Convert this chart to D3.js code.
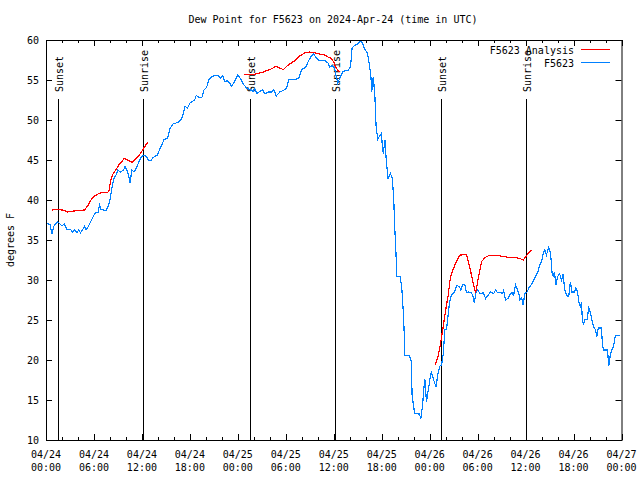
<!DOCTYPE html>
<html><head><meta charset="utf-8">
<script src="https://cdn.jsdelivr.net/npm/d3@7"></script>
<style>
html,body{margin:0;padding:0;background:#fff;}
svg text{font-family:"DejaVu Sans Mono",monospace;font-size:10px;fill:#000;}
</style></head>
<body><svg id="c" width="640" height="480"></svg>
<script>
// ---- data (hours since 2024-04-24 00:00 UTC) ----
const chartTitle = "Dew Point for F5623 on 2024-Apr-24 (time in UTC)";
const yLabel = "degrees F";
const seriesNames = ["F5623 Analysis", "F5623"];
const yTicks = [10, 15, 20, 25, 30, 35, 40, 45, 50, 55, 60];
const sunLabels = ["Sunset", "Sunrise", "Sunset", "Sunrise", "Sunset", "Sunrise"];
const sunHours = [1.55, 12.15, 25.55, 36.15, 49.42, 60.05];

const obsHours = [0.2,0.5,0.75,1.0,1.4,1.67,2.0,2.3,2.6,3.1,3.3,3.6,3.9,4.1,4.3,4.6,4.8,5.0,5.3,5.75,6.0,6.25,6.5,6.7,6.9,7.5,7.8,8.0,8.25,8.5,8.75,9.0,9.3,9.7,9.9,10.2,10.4,10.5,10.75,11.0,11.2,11.6,11.9,12.1,12.5,12.8,13.1,13.4,13.9,14.4,14.8,15.2,15.5,15.9,16.5,17.0,17.4,17.7,18.0,18.6,18.8,19.0,19.5,19.75,20.1,20.4,20.9,21.5,21.8,22.1,22.4,22.7,23.0,23.2,23.6,24.0,24.4,24.75,25.1,25.5,25.9,26.1,26.4,26.8,27.1,27.4,27.8,28.2,28.5,28.8,29.25,29.7,30.1,30.4,31.3,31.6,32.0,32.5,32.8,33.2,33.5,33.8,34.25,34.9,35.3,35.5,35.8,36.1,36.3,36.5,36.95,37.2,37.8,38.1,38.3,38.6,39.0,39.3,39.6,39.9,40.2,40.4,40.55,40.65,40.75,40.85,40.95,41.15,41.3,41.5,41.75,41.96,42.1,42.2,42.4,42.6,42.8,43.1,43.3,43.5,43.6,43.75,43.9,44.3,44.5,44.7,44.8,44.9,45.5,45.7,45.8,46.05,46.1,46.7,46.9,47.1,47.3,47.4,47.6,47.75,47.95,48.1,48.2,48.5,48.8,49.0,49.25,49.5,49.7,49.9,50.1,50.3,50.5,50.7,51.1,51.4,51.7,51.9,52.1,52.4,52.6,52.9,53.2,53.4,53.6,53.75,54.0,54.3,54.7,55.0,55.3,55.6,56.0,56.25,56.5,56.8,57.1,57.25,57.5,57.8,58.0,58.3,58.5,58.75,59.0,59.2,59.3,59.5,59.7,59.9,60.2,60.4,60.7,61.0,61.25,61.5,61.7,62.0,62.2,62.4,62.6,62.8,62.9,63.1,63.2,63.3,63.5,63.6,63.8,64.0,64.25,64.5,64.7,64.9,65.2,65.4,65.6,65.8,66.1,66.3,66.5,66.7,66.85,67.0,67.1,67.25,67.4,67.7,67.9,68.1,68.3,68.5,68.75,68.9,69.1,69.5,69.6,69.75,70.2,70.3,70.4,70.6,70.8,71.0,71.25,71.75];
const obsValues = [37.1,36.9,35.8,36.75,37.3,37.1,36.75,37.0,36.3,36.3,36.0,36.3,35.9,36.3,35.9,36.3,36.7,36.3,36.7,37.6,38.1,38.5,38.4,39.4,38.8,38.7,39.25,40.0,41.5,42.7,43.1,43.75,43.5,43.75,44.2,43.5,42.7,42.1,43.75,43.5,43.75,44.7,45.3,45.6,45.5,45.0,44.9,45.3,45.6,46.7,47.6,47.7,48.9,49.5,49.7,50.2,51.7,51.5,52.1,52.5,53.1,52.9,52.8,53.75,54.1,55.1,55.5,55.6,55.2,55.5,54.8,54.9,54.6,54.2,54.8,55.6,55.1,54.4,54.0,53.8,53.6,53.9,53.3,53.6,53.75,53.25,53.5,53.5,53.8,53.0,53.5,53.7,54.0,55.1,55.1,55.2,56.3,56.6,57.3,58.0,58.25,57.75,57.4,57.4,57.1,56.6,56.8,56.5,55.5,54.6,55.7,56.1,56.2,56.7,59.0,59.3,59.5,59.9,59.6,58.8,58.4,57.3,56.2,55.4,53.5,54.6,55.4,52.9,49.2,47.6,48.0,48.3,46.5,45.8,47.5,44.6,42.7,43.3,42.8,40.4,37.1,34.2,30.5,30.4,29.2,26.0,23.75,20.6,20.5,19.8,15.6,13.8,13.3,13.25,12.7,14.25,16.7,17.6,14.8,15.8,17.0,18.1,18.5,17.5,16.6,18.1,19.2,19.4,20.8,23.75,23.8,25.5,27.3,28.1,28.5,29.3,29.2,28.75,29.4,29.4,28.4,28.5,28.4,28.1,27.1,28.3,28.75,28.3,28.4,27.7,28.1,28.5,28.3,28.75,28.4,28.5,28.3,28.7,27.5,27.7,28.1,28.4,28.1,29.4,28.75,28.1,27.5,27.8,26.9,28.3,28.5,29.0,29.4,29.9,30.5,30.9,31.7,32.3,33.3,33.75,33.1,33.75,34.1,33.4,32.5,31.0,30.4,31.0,29.4,30.4,30.8,30.0,30.75,28.75,28.0,28.0,29.8,28.5,28.5,29.0,28.5,27.1,26.7,27.2,25.0,24.4,25.1,25.1,26.5,26.0,25.0,24.2,23.75,22.9,24.0,24.0,22.1,21.25,21.25,20.6,19.25,20.6,21.25,21.75,23.1,23.1];

// analysis series; null marks a gap between segments
const anaHours = [0.75,1.25,1.67,2.3,2.7,3.3,4.2,4.8,5.2,5.8,6.5,6.9,7.7,7.9,8.1,8.3,8.75,9.2,9.5,9.8,10.2,10.75,11.2,11.6,12.1,12.4,12.8,
  18.0,
  24.75,25.9,26.5,27.2,27.6,28.0,28.4,28.75,29.2,29.7,30.1,30.5,31.1,31.75,32.4,33.0,33.6,34.25,34.9,35.4,35.7,36.0,36.3,36.7,
  42.0,
  48.7,49.05,49.3,49.7,50.0,50.3,50.6,50.8,51.3,51.75,52.6,53.0,53.4,53.75,54.0,54.5,54.9,55.5,56.1,56.9,58.0,58.75,59.25,59.7,60.1,60.4,60.7];
const anaValues = [38.75,38.8,38.8,38.7,38.5,38.6,38.7,38.75,39.25,40.3,40.75,40.9,40.9,41.25,42.5,43.1,43.8,44.5,44.8,45.2,45.0,44.7,45.1,45.5,46.25,46.75,47.3,
  null,
  55.7,55.7,55.8,56.0,56.2,56.3,56.5,56.7,56.5,56.3,56.7,57.0,57.4,58.0,58.4,58.5,58.4,58.25,58.1,57.8,57.7,57.25,56.5,56.0,
  null,
  19.4,20.4,21.7,24.2,26.25,28.0,30.4,31.0,32.2,33.1,33.2,31.7,29.8,28.3,29.8,32.3,32.8,33.1,33.1,33.0,32.8,32.8,32.7,32.5,33.0,33.4,33.75];

// ---- drawing ----
const t0 = Date.UTC(2024, 3, 24, 0, 0);
const toDate = h => new Date(t0 + h * 3600e3);
const L = 46, R = 621.5, T = 40, B = 440;
const svg = d3.select("#c");
const x = d3.scaleUtc().domain([toDate(0), toDate(72)]).range([L, R]);
const y = d3.scaleLinear().domain([10, 60]).range([B, T]);
const crisp = v => Math.round(v) + 0.5;

// title
svg.append("text").attr("x", 333).attr("y", 23).attr("text-anchor", "middle").text(chartTitle);
// y label
svg.append("text").attr("transform", "translate(14,240) rotate(-90)").attr("text-anchor", "middle").text(yLabel);

const g = svg.append("g");
const majorX = d3.utcHour.every(6).range(toDate(0), toDate(72.01));
const minorX = d3.utcHour.every(2).range(toDate(0), toDate(72.01)).filter(d => d.getUTCHours() % 6 !== 0);

// ticks (inward on all sides)
majorX.forEach(d => {
  const px = crisp(x(d));
  g.append("line").attr("x1", px).attr("x2", px).attr("y1", B).attr("y2", B - 6).attr("stroke", "#000");
  g.append("line").attr("x1", px).attr("x2", px).attr("y1", T).attr("y2", T + 6).attr("stroke", "#000");
  const lab = g.append("text").attr("text-anchor", "middle").attr("x", x(d));
  lab.append("tspan").attr("x", x(d)).attr("y", 458).text(d3.utcFormat("%m/%d")(d));
  lab.append("tspan").attr("x", x(d)).attr("y", 471).text(d3.utcFormat("%H:%M")(d));
});
minorX.forEach(d => {
  const px = crisp(x(d));
  g.append("line").attr("x1", px).attr("x2", px).attr("y1", B).attr("y2", B - 3).attr("stroke", "#000");
  g.append("line").attr("x1", px).attr("x2", px).attr("y1", T).attr("y2", T + 3).attr("stroke", "#000");
});
yTicks.forEach(v => {
  const py = crisp(y(v));
  g.append("line").attr("x1", L).attr("x2", L + 6).attr("y1", py).attr("y2", py).attr("stroke", "#000");
  g.append("line").attr("x1", R).attr("x2", R - 6).attr("y1", py).attr("y2", py).attr("stroke", "#000");
  g.append("text").attr("x", 39).attr("y", y(v) + 4).attr("text-anchor", "end").text(v);
});

// sunrise / sunset
sunHours.forEach((h, i) => {
  const px = crisp(x(toDate(h)));
  g.append("line").attr("x1", px).attr("x2", px).attr("y1", 99).attr("y2", B).attr("stroke", "#000");
  g.append("text").attr("transform", `translate(${px + 4.5},92) rotate(-90)`).attr("text-anchor", "start").text(sunLabels[i]);
});

// series
const obs = obsHours.map((h, i) => ({ d: toDate(h), v: obsValues[i] }));
const ana = anaHours.map((h, i) => ({ d: toDate(h), v: anaValues[i] }));
const line = d3.line().defined(p => p.v !== null).x(p => x(p.d)).y(p => y(p.v));
svg.append("path").datum(ana).attr("d", line).attr("fill", "none").attr("stroke", "#ff0000")
  .attr("stroke-width", 1.2).attr("shape-rendering", "crispEdges");
svg.append("path").datum(obs).attr("d", line).attr("fill", "none").attr("stroke", "#0080ff")
  .attr("stroke-width", 1.2).attr("shape-rendering", "crispEdges");

// border
svg.append("rect").attr("x", L + 0.5).attr("y", T + 0.5).attr("width", Math.round(R - L) - 0.5).attr("height", B - T)
  .attr("fill", "none").attr("stroke", "#000");

// legend
const legColors = ["#ff0000", "#0080ff"];
seriesNames.forEach((n, i) => {
  const ly = 49.5 + i * 13;
  svg.append("text").attr("x", 574).attr("y", ly + 4).attr("text-anchor", "end").text(n);
  svg.append("line").attr("x1", 581).attr("x2", 610).attr("y1", ly).attr("y2", ly).attr("stroke", legColors[i]);
});
</script></body></html>
